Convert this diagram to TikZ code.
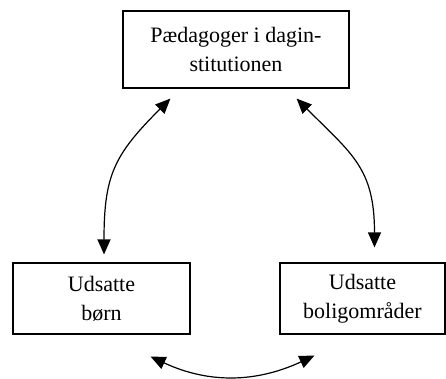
\documentclass[tikz,border=0pt]{standalone}
\usepackage{fontspec}
\setmainfont{Liberation Serif}
\usetikzlibrary{arrows.meta,calc}
\tikzset{
    >={Triangle[length=15pt,width=13pt]},
    every picture/.style={line width=1.2pt},
    partbox/.style={rectangle,draw,align=center,inner sep=0pt,
        font=\fontsize{22}{29}\selectfont}
}

\begin{document}
\begin{tikzpicture}[x=1pt,y=1pt]
        \useasboundingbox (0,0) rectangle (446,378);
        % The three parts
        \node[partbox,minimum width=226pt,minimum height=77pt] (paed) at (236,328.5)
            {Pædagoger i dagin-\\stitutionen};
        \node[partbox,minimum width=177pt,minimum height=71pt] (boern) at (101.5,79.5)
            {Udsatte\\børn};
        \node[partbox,minimum width=165pt,minimum height=71pt] (omraade) at (362.5,79.5)
            {Udsatte\\boligområder};

        % Arrows between them
        \draw[<->] ($(paed.south west)+(48,-10)$) to[out=-135,in=90,looseness=1.2]
            ($(boern.north)+(2.5,8)$);
        \draw[<->] ($(paed.south east)+(-53,-10)$) to[out=-45,in=90,looseness=1.2]
            ($(omraade.north)+(12,15)$);
        \draw[<->] ($(boern.south east)+(-40,-22)$) to[out=-25,in=-155]
            ($(omraade.south west)+(35,-21)$);
    \end{tikzpicture}
\end{document}
